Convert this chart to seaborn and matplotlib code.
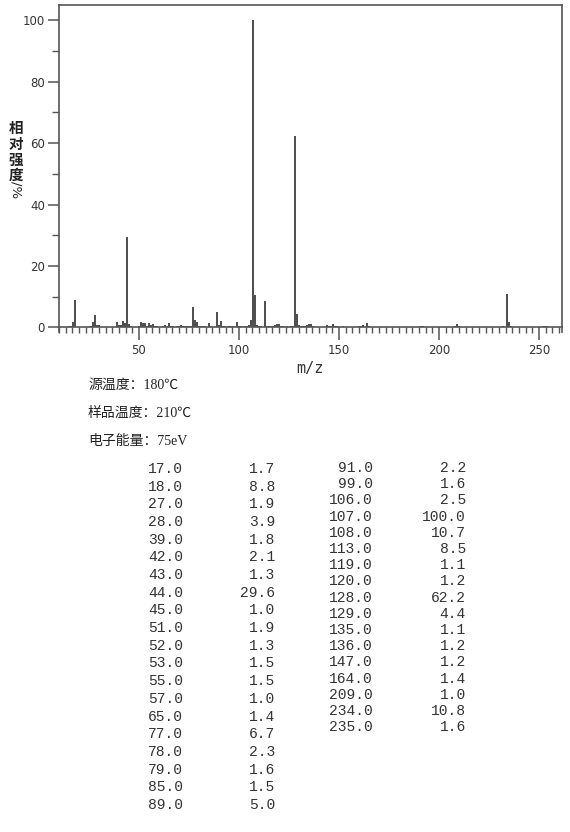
import numpy as np
import pandas as pd
import matplotlib
matplotlib.use("Agg")
import matplotlib.pyplot as plt
import seaborn as sns
from matplotlib.ticker import MultipleLocator

# ---- data (m/z and relative intensity) ----
mz = [15, 16, 17, 18, 26, 27, 28, 29, 30, 39, 40, 41, 42, 43, 44, 45, 46, 50,
      51, 52, 53, 54, 55, 56, 57, 58, 59, 62, 63, 64, 65, 66, 67, 69, 70, 71,
      72, 73, 74, 75, 76, 77, 78, 79, 80, 81, 82, 83, 85, 86, 89, 90, 91, 92,
      93, 95, 96, 97, 99, 100, 101, 103, 104, 105, 106, 107, 108, 109, 110,
      111, 113, 114, 115, 116, 117, 118, 119, 120, 121, 122, 124, 126, 127,
      128, 129, 130, 131, 132, 133, 134, 135, 136, 137, 144, 145, 146, 147,
      148, 149, 152, 160, 161, 162, 164, 165, 191, 192, 208, 209, 210, 232,
      234, 235, 236, 252, 253, 254]
intensity = [0.3, 0.3, 1.7, 8.8, 0.6, 1.9, 3.9, 0.8, 0.7, 1.8, 0.7, 0.9, 2.1,
             1.3, 29.6, 1.0, 0.4, 0.5, 1.9, 1.3, 1.5, 0.6, 1.5, 0.8, 1.0, 0.4,
             0.3, 0.4, 0.8, 0.5, 1.4, 0.6, 0.5, 0.4, 0.5, 0.9, 0.5, 0.4, 0.5,
             0.5, 0.6, 6.7, 2.3, 1.6, 0.6, 0.5, 0.4, 0.5, 1.5, 0.4, 5.0, 0.8,
             2.2, 0.5, 0.4, 0.6, 0.4, 0.4, 1.6, 0.5, 0.4, 0.5, 0.6, 0.8, 2.5,
             100.0, 10.7, 0.9, 0.5, 0.5, 8.5, 0.5, 0.5, 0.4, 0.5, 0.7, 1.1, 1.2,
             0.5, 0.4, 0.3, 0.5, 0.6, 62.2, 4.4, 0.8, 0.5, 0.6, 0.5, 0.9, 1.1,
             1.2, 0.4, 0.9, 0.6, 0.6, 1.2, 0.5, 0.4, 0.4, 0.3, 0.6, 0.7, 1.4,
             0.4, 0.3, 0.3, 0.4, 1.0, 0.3, 0.3, 10.8, 1.6, 0.4, 0.6, 0.5, 0.3]

# peak table (m/z, intensity) as printed below the chart
table_mz = [17, 18, 27, 28, 39, 42, 43, 44, 45, 51, 52, 53, 55, 57, 65, 77, 78,
            79, 85, 89, 91, 99, 106, 107, 108, 113, 119, 120, 128, 129, 135,
            136, 147, 164, 209, 234, 235]
table_int = [1.7, 8.8, 1.9, 3.9, 1.8, 2.1, 1.3, 29.6, 1.0, 1.9, 1.3, 1.5, 1.5,
             1.0, 1.4, 6.7, 2.3, 1.6, 1.5, 5.0, 2.2, 1.6, 2.5, 100.0, 10.7, 8.5,
             1.1, 1.2, 62.2, 4.4, 1.1, 1.2, 1.2, 1.4, 1.0, 10.8, 1.6]

info_lines = ["源温度：180℃", "样品温度：210℃", "电子能量：75eV"]
x_label = "m/z"
y_label_cjk = ["相", "对", "强", "度"]
y_label_tail = "/%"

# ---- figure ----
sns.set_theme(style="ticks")
plt.rcParams["font.family"] = ["DejaVu Sans", "Noto Sans CJK SC"]

W, H = 570, 832
fig = plt.figure(figsize=(W / 100, H / 100), dpi=100)
fig.patch.set_facecolor("white")

left, right, top, bottom = 59, 562, 5, 331.7
ax = fig.add_axes([left / W, 1 - bottom / H, (right - left) / W, (bottom - top) / H])

df = pd.DataFrame({"mz": mz, "intensity": intensity})
sns.barplot(data=df, x="mz", y="intensity", native_scale=True, width=0.65,
            color="#505050", saturation=1, linewidth=0, errorbar=None, ax=ax)

ax.set_xlim(10, 261.5)
ax.set_ylim(-1.4, 105)
ax.set_xlabel("")
ax.set_ylabel("")

spine_c = "#555555"
for s in ["left", "right", "top", "bottom"]:
    ax.spines[s].set_visible(True)
    ax.spines[s].set_color(spine_c)
    ax.spines[s].set_linewidth(1.2)
ax.spines["bottom"].set_position(("data", 0))

ax.xaxis.set_major_locator(MultipleLocator(50))
ax.xaxis.set_minor_locator(MultipleLocator(10 / 3))
ax.yaxis.set_major_locator(MultipleLocator(20))
ax.yaxis.set_minor_locator(MultipleLocator(10))

ax.tick_params(axis="x", which="major", direction="out", length=9, width=1.1,
               color=spine_c, labelsize=8.5, labelcolor="#333333", pad=3)
ax.tick_params(axis="x", which="minor", direction="out", length=4.5, width=1.0,
               color=spine_c)
ax.tick_params(axis="y", which="major", direction="out", length=8, width=1.1,
               color=spine_c, labelsize=8.5, labelcolor="#333333", pad=2)
ax.tick_params(axis="y", which="minor", direction="out", length=5, width=1.0,
               color=spine_c)
ax.tick_params(right=False, top=False, which="both")

# axis titles
fig.text(310 / W, 1 - 368 / H, x_label, ha="center", va="center",
         family="DejaVu Sans Mono", fontsize=11, color="#333333")
ycs = [128, 144, 160, 175]
for ch, yc in zip(y_label_cjk, ycs):
    fig.text(16 / W, 1 - yc / H, ch, ha="center", va="center",
             family="Noto Sans CJK SC", fontsize=10.5, fontweight="bold",
             color="#222222")
fig.text(16 / W, 1 - 190 / H, y_label_tail, ha="center", va="center",
         rotation=-90, family="DejaVu Sans", fontsize=9.5, color="#222222")

# info lines
info_fam = ["Liberation Serif", "Noto Sans CJK SC"]
for i, line in enumerate(info_lines):
    fig.text(88 / W, 1 - (385 + 28 * i) / H, line, ha="left", va="center",
             family=info_fam, fontsize=10, color="#222222")

# peak table
mono = "Liberation Mono"
n_left = 20
for i in range(len(table_mz)):
    if i < n_left:
        y = 469 + i * 17.68
        xm, xi = 183, 275
    else:
        y = 468 + (i - n_left) * 16.2
        xm, xi = 373, 466
    fig.text(xm / W, 1 - y / H, f"{table_mz[i]:.1f}", ha="right", va="center",
             family=mono, fontsize=10.5, color="#333333")
    fig.text(xi / W, 1 - y / H, f"{table_int[i]:.1f}", ha="right", va="center",
             family=mono, fontsize=10.5, color="#333333")

fig.savefig("out.png", dpi=100, facecolor="white")
